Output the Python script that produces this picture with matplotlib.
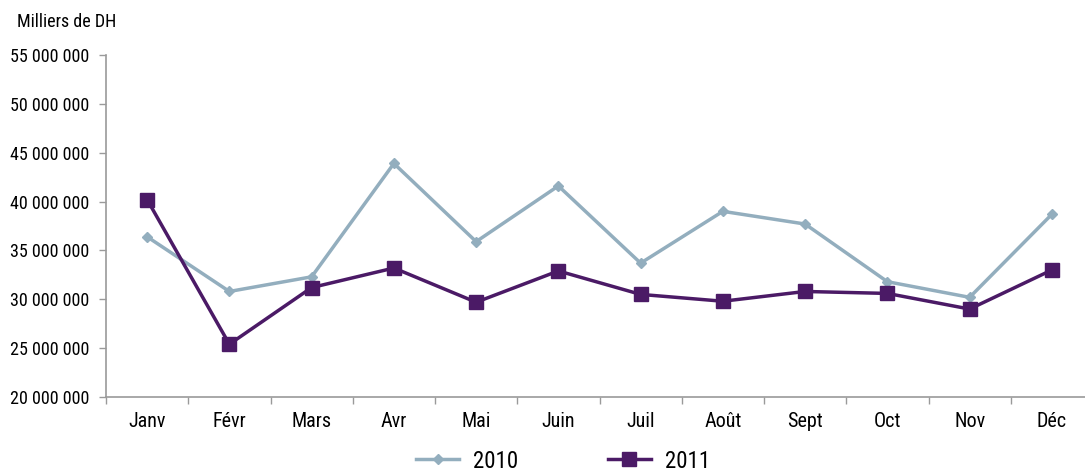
import matplotlib
matplotlib.use("Agg")
import matplotlib.pyplot as plt
from matplotlib.ticker import FuncFormatter, FixedLocator
from matplotlib import font_manager

months = ["Janv", "Févr", "Mars", "Avr", "Mai", "Juin", "Juil", "Août", "Sept", "Oct", "Nov", "Déc"]
values_2010 = [36_400_000, 30_800_000, 32_300_000, 43_900_000, 35_900_000, 41_600_000,
               33_700_000, 39_000_000, 37_700_000, 31_800_000, 30_200_000, 38_700_000]
values_2011 = [40_200_000, 25_400_000, 31_200_000, 33_200_000, 29_700_000, 32_900_000,
               30_500_000, 29_800_000, 30_800_000, 30_600_000, 29_000_000, 33_000_000]
y_ticks = [20_000_000, 25_000_000, 30_000_000, 35_000_000, 40_000_000, 45_000_000, 50_000_000, 55_000_000]
unit_label = "Milliers de DH"
series_labels = ["2010", "2011"]

# look for a condensed face among installed fonts
def _is_condensed(f):
    st = f.stretch
    if isinstance(st, str):
        if "condensed" in st.lower() or "narrow" in st.lower():
            return True
    else:
        try:
            if int(st) < 100:
                return True
        except Exception:
            pass
    return "Condensed" in f.fname or "Narrow" in f.name or "Narrow" in f.fname

prefs = ["Open Sans", "Open Sans Condensed", "Roboto", "Roboto Condensed", "Noto Sans",
         "Liberation Sans Narrow", "DejaVu Sans", "Lato", "Inter"]
condensed = [f for f in font_manager.fontManager.ttflist if _is_condensed(f)
             and "Bold" not in f.fname and "Italic" not in f.fname and "Light" not in f.fname]
chosen = None
for p in prefs:
    for f in condensed:
        if f.name == p:
            chosen = f
            break
    if chosen:
        break

if chosen is not None:
    base = font_manager.FontProperties(fname=chosen.fname)
    sz_tick, sz_x, sz_leg = 13.0, 14.5, 16.5
else:
    base = font_manager.FontProperties(family="Open Sans")
    sz_tick, sz_x, sz_leg = 12, 13, 15

def fp(size):
    p = base.copy()
    p.set_size(size)
    return p

fig = plt.figure(figsize=(10.85, 4.72), dpi=100)
ax = fig.add_axes([106/1085, 1 - 397/472, (1093 - 106)/1085, (397 - 55)/472])

x = list(range(len(months)))
c2010 = "#93aebe"
c2011 = "#4b1a66"
ax.plot(x, values_2010, color=c2010, lw=2.5, marker="D", ms=5.5, mfc=c2010, mec=c2010,
        label=series_labels[0], solid_joinstyle="miter")
ax.plot(x, values_2011, color=c2011, lw=2.5, marker="s", ms=9.5, mfc=c2011, mec=c2011,
        label=series_labels[1], solid_joinstyle="miter")

ax.set_xlim(-0.5, len(months) - 0.5)
ax.set_ylim(y_ticks[0], y_ticks[-1])
ax.set_yticks(y_ticks)
ax.yaxis.set_major_formatter(FuncFormatter(lambda v, p: f"{int(v):,}".replace(",", " ")))

ax.xaxis.set_major_locator(FixedLocator([i - 0.5 for i in range(len(months) + 1)]))
ax.xaxis.set_major_formatter(FuncFormatter(lambda v, p: ""))
ax.xaxis.set_minor_locator(FixedLocator(x))
ax.set_xticklabels(months, minor=True)

ax.tick_params(axis="y", direction="out", length=5, width=1, color="#9a9a9a", pad=7)
ax.tick_params(axis="x", which="major", direction="out", length=5, width=1, color="#9a9a9a")
ax.tick_params(axis="x", which="minor", length=0, pad=11)
for lab in ax.get_yticklabels():
    lab.set_fontproperties(fp(sz_tick))
for lab in ax.get_xticklabels(minor=True):
    lab.set_fontproperties(fp(sz_x))

for s in ["top", "right"]:
    ax.spines[s].set_visible(False)
for s in ["left", "bottom"]:
    ax.spines[s].set_color("#9a9a9a")
    ax.spines[s].set_linewidth(1.2)

fig.text(17/1085, 1 - 22/472, unit_label, fontproperties=fp(sz_tick), ha="left", va="center")

leg = fig.legend(loc="center", bbox_to_anchor=(563/1085, 1 - 461/472), ncol=2, frameon=False,
                 prop=fp(sz_leg), handlelength=1.9, columnspacing=3.9, handletextpad=0.6)

fig.savefig("out.png", dpi=100)
